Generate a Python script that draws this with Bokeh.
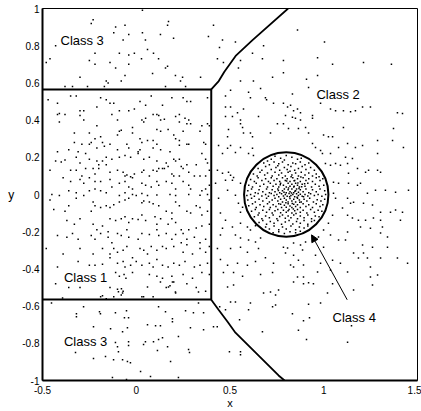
from bokeh.plotting import figure
from bokeh.models import Range1d, FixedTicker, Arrow, NormalHead, Label
from bokeh.embed import file_html
from bokeh.resources import INLINE

# ---------------- data ----------------
xtick_vals = [-0.5, 0, 0.5, 1, 1.5]
xtick_labels = ["-0.5", "0", "0.5", "1", "1.5"]
ytick_vals = [-1, -0.8, -0.6, -0.4, -0.2, 0, 0.2, 0.4, 0.6, 0.8, 1]
ytick_labels = ["-1", "-0.8", "-0.6", "-0.4", "-0.2", "0", "0.2", "0.4", "0.6", "0.8", "1"]
x_title = "x"
y_title = "y"

# decision boundaries
rect_x = [-0.5, 0.4, 0.4, -0.5]
rect_y = [0.565, 0.565, -0.565, -0.565]
upper_x = [0.4, 0.44, 0.47, 0.53, 0.62, 0.81]
upper_y = [0.565, 0.61, 0.66, 0.745, 0.83, 1.0]
lower_x = [0.4, 0.439, 0.487, 0.529, 0.759, 0.791]
lower_y = [-0.566, -0.62, -0.684, -0.743, -0.973, -1.0]
circle_cx = 0.8
circle_cy = 0.0
circle_r = 0.225

# class labels
label_text = ["Class 3", "Class 2", "Class 1", "Class 3", "Class 4"]
label_x = [-0.404, 0.961, -0.386, -0.386, 1.047]
label_y = [0.826, 0.538, -0.448, -0.791, -0.66]
arrow_from = (1.125, -0.566)
arrow_to = (0.935, -0.217)

class1_pts = [
    (-0.47,0.51),(-0.42,0.49),(-0.35,0.53),(-0.32,0.53),(-0.19,0.52),(-0.16,0.51),(-0.14,0.49),(-0.12,0.49),
    (0.02,0.50),(0.05,0.48),(0.08,0.53),(0.14,0.48),(0.19,0.52),(0.25,0.52),(0.27,0.50),(0.29,0.50),(0.38,0.52),
    (-0.42,0.43),(-0.41,0.435),(-0.38,0.43),(-0.41,0.39),(-0.30,0.45),(-0.28,0.45),(-0.30,0.425),(-0.28,0.40),
    (-0.21,0.47),(-0.13,0.43),(-0.09,0.45),(-0.04,0.45),(-0.01,0.46),(-0.10,0.40),(0.03,0.40),(0.04,0.39),
    (0.05,0.41),(0.09,0.43),(0.11,0.43),(0.12,0.425),(0.13,0.40),(0.15,0.405),(0.21,0.42),(0.23,0.43),
    (0.26,0.41),(0.28,0.40),(0.29,0.38),(0.27,0.38),(0.23,0.39),(0.35,0.37),(0.38,0.38),(0.39,0.37),
    (-0.21,0.37),(-0.33,0.33),(-0.25,0.33),(-0.22,0.30),(-0.24,0.28),(-0.19,0.31),(-0.14,0.27),(-0.09,0.34),
    (-0.08,0.345),(-0.10,0.32),(-0.02,0.36),(-0.02,0.33),(0.02,0.30),(0.03,0.28),(0.06,0.29),(0.09,0.29),
    (0.11,0.35),(0.13,0.34),(0.17,0.35),(0.20,0.32),(0.21,0.30),(0.23,0.29),(0.25,0.34),(0.27,0.27),
    (0.34,0.34),(0.36,0.28),(0.37,0.27),(-0.33,0.28),(-0.29,0.27),(-0.25,0.27),(-0.21,0.25),(-0.18,0.28),
    (-0.17,0.26),(-0.05,0.27),(-0.04,0.25),(-0.10,0.24),(0.01,0.23),(0.02,0.24),(0.09,0.25),(0.11,0.27),
    (0.13,0.24),(0.18,0.23),(0.23,0.265),(0.28,0.27),(0.35,0.22),(-0.42,0.23),(-0.36,0.24),(-0.31,0.23),
    (-0.27,0.22),(-0.43,0.18),(-0.40,0.175),(-0.38,0.185),(-0.32,0.20),(-0.30,0.17),(-0.25,0.19),(-0.21,0.18),
    (-0.18,0.18),(-0.16,0.20),(-0.20,0.16),(-0.16,0.16),(-0.13,0.19),(-0.09,0.20),(-0.06,0.21),(-0.03,0.20),
    (0.01,0.22),(0.04,0.19),(0.07,0.20),(0.11,0.18),(0.16,0.17),(0.14,0.14),(0.17,0.15),(0.20,0.19),
    (0.21,0.18),(0.23,0.19),(0.24,0.15),(0.27,0.16),(0.32,0.16),(0.37,0.19),(0.38,0.17),(-0.46,0.13),
    (-0.35,0.13),(-0.32,0.13),(-0.29,0.10),(-0.27,0.14),(-0.23,0.14),(-0.20,0.14),(-0.22,0.11),(-0.14,0.12),
    (-0.10,0.13),(-0.07,0.12),(-0.06,0.10),(-0.05,0.105),(-0.03,0.095),(-0.01,0.11),(-0.02,0.09),(0.03,0.12),
    (0.04,0.13),(0.07,0.10),(0.09,0.13),(0.11,0.125),(0.12,0.14),(0.15,0.14),(0.19,0.11),(0.20,0.10),
    (0.23,0.10),(0.25,0.14),(0.28,0.12),(0.31,0.10),(0.34,0.10),(0.37,0.10),(0.39,0.13),(-0.39,0.09),
    (-0.35,0.07),(-0.30,0.08),(-0.28,0.06),(-0.25,0.09),(-0.22,0.07),(-0.19,0.07),(-0.14,0.08),(-0.13,0.04),
    (-0.09,0.06),(-0.06,0.07),(-0.04,0.04),(-0.02,0.03),(0.03,0.06),(0.05,0.05),(0.08,0.04),(0.11,0.07),
    (0.12,0.05),(0.16,0.07),(0.19,0.06),(0.21,0.03),(0.25,0.07),(0.28,0.05),(0.29,0.03),(0.35,0.02),
    (0.37,0.03),(0.39,0.05),(-0.45,0.00),(-0.41,-0.005),(-0.36,0.02),(-0.32,0.01),(-0.28,-0.005),(-0.25,0.02),
    (-0.22,0.03),(-0.19,0.02),(-0.16,0.01),(-0.09,-0.005),(-0.06,0.01),(-0.02,0.00),(0.00,-0.005),(0.03,0.005),
    (0.06,-0.005),(0.11,-0.003),(0.18,0.00),(0.21,-0.005),(0.28,0.00),(0.34,-0.004),(0.38,0.00),
    (-0.46,-0.03),(-0.44,-0.08),(-0.38,-0.09),(-0.36,-0.06),(-0.32,-0.02),(-0.23,-0.04),(-0.22,-0.06),(-0.24,-0.09),
    (-0.19,-0.07),(-0.16,-0.06),(-0.14,-0.07),(-0.12,-0.055),(-0.09,-0.04),(-0.06,-0.03),(-0.04,-0.02),(0.03,-0.045),
    (0.04,-0.035),(0.07,-0.04),(0.09,-0.05),(0.12,-0.06),(0.16,-0.09),(0.19,-0.10),(0.21,-0.04),(0.23,-0.06),
    (0.27,-0.09),(0.29,-0.10),(0.32,-0.06),(0.34,-0.07),(0.35,-0.11),(0.38,-0.09),(0.39,-0.03),(-0.37,-0.14),
    (-0.33,-0.16),(-0.30,-0.13),(-0.23,-0.16),(-0.21,-0.19),(-0.18,-0.17),(-0.15,-0.20),(-0.14,-0.13),(-0.11,-0.14),
    (-0.08,-0.13),(-0.06,-0.12),(-0.04,-0.15),(-0.02,-0.13),(0.01,-0.135),(0.03,-0.11),(0.05,-0.14),(0.10,-0.12),
    (0.11,-0.16),(0.13,-0.13),(0.17,-0.16),(0.19,-0.13),(0.21,-0.15),(0.24,-0.19),(0.25,-0.21),(0.28,-0.19),
    (0.32,-0.18),(0.35,-0.17),(0.39,-0.16),(-0.42,-0.22),(-0.37,-0.23),(-0.34,-0.21),(-0.31,-0.24),(-0.24,-0.22),
    (-0.22,-0.24),(-0.19,-0.21),(-0.15,-0.23),(-0.13,-0.26),(-0.10,-0.21),(-0.08,-0.22),(-0.05,-0.19),(-0.04,-0.23),
    (0.01,-0.24),(0.03,-0.21),(0.07,-0.215),(0.11,-0.19),(0.12,-0.22),(0.16,-0.21),(0.19,-0.24),(0.21,-0.215),
    (0.24,-0.26),(0.27,-0.24),(0.31,-0.23),(0.34,-0.26),(0.37,-0.24),(-0.48,-0.29),(-0.39,-0.32),(-0.30,-0.29),
    (-0.23,-0.32),(-0.18,-0.29),(-0.14,-0.32),(-0.12,-0.29),(-0.10,-0.31),(-0.07,-0.30),(-0.05,-0.28),(-0.02,-0.34),
    (0.02,-0.29),(0.04,-0.30),(0.06,-0.32),(0.08,-0.28),(0.11,-0.30),(0.14,-0.28),(0.16,-0.29),(0.20,-0.28),
    (0.25,-0.31),(0.27,-0.27),(0.30,-0.32),(0.34,-0.29),(0.37,-0.31),(0.39,-0.28),(-0.31,-0.36),(-0.25,-0.38),
    (-0.22,-0.38),(-0.18,-0.375),(-0.14,-0.34),(-0.10,-0.37),(-0.07,-0.36),(-0.06,-0.39),(-0.03,-0.38),(0.00,-0.36),
    (0.03,-0.38),(0.07,-0.37),(0.09,-0.39),(0.11,-0.35),(0.14,-0.38),(0.17,-0.39),(0.20,-0.37),(0.23,-0.38),
    (0.26,-0.36),(0.31,-0.39),(0.34,-0.38),(0.38,-0.37),(-0.42,-0.39),(-0.11,-0.42),(-0.09,-0.44),(-0.065,-0.43),
    (-0.055,-0.45),(-0.02,-0.42),(0.07,-0.43),(0.11,-0.44),(0.14,-0.45),(0.19,-0.44),(0.20,-0.47),(0.25,-0.43),
    (0.30,-0.45),(0.35,-0.42),(0.39,-0.43),(-0.43,-0.48),(-0.36,-0.50),(-0.30,-0.50),(-0.14,-0.50),(-0.10,-0.51),
    (-0.07,-0.52),(-0.08,-0.54),(0.16,-0.50),(0.18,-0.49),(0.21,-0.53),(0.27,-0.48),(0.32,-0.50),(0.37,-0.52),
    (-0.19,-0.55),(-0.16,-0.56),(-0.12,-0.55),(0.03,-0.55),(0.09,-0.55),(-0.079,-0.507),(-0.073,-0.529),
    (-0.095,-0.523),(-0.18,-0.545),(-0.393,-0.556),(0.06,-0.497),(0.129,-0.47),(0.172,-0.497),(0.193,-0.47),
    (0.209,-0.524),(0.332,-0.524),(0.039,-0.55),
]

class2_pts = [
    (0.62,0.76),(0.679,0.80),(0.673,0.73),(0.556,0.72),(0.545,0.68),(0.727,0.63),(0.625,0.61),(0.556,0.61),
    (0.663,0.57),(0.503,0.56),(0.599,0.55),(0.609,0.52),(0.689,0.52),(0.695,0.51),(0.476,0.53),(0.732,0.49),
    (0.503,0.47),(0.476,0.47),(0.572,0.46),(0.54,0.44),(0.652,0.42),(0.513,0.42),(0.556,0.40),(0.476,0.42),
    (0.556,0.38),(0.567,0.36),(0.492,0.35),(0.572,0.33),(0.609,0.33),(0.753,0.38),(0.487,0.31),(0.62,0.31),
    (0.716,0.33),(0.86,0.885),(1.004,0.82),(0.785,0.72),(0.967,0.735),(1.047,0.70),(1.212,0.71),(1.361,0.70),
    (0.785,0.655),(0.908,0.62),(0.967,0.64),(0.833,0.54),(0.919,0.575),(0.983,0.49),(1.036,0.46),(1.063,0.45),
    (1.105,0.45),(1.143,0.445),(1.169,0.45),(1.207,0.47),(1.249,0.47),(1.393,0.44),(1.42,0.435),(0.785,0.49),
    (0.807,0.47),(0.823,0.48),(0.839,0.45),(0.86,0.46),(0.876,0.44),(0.796,0.425),(0.833,0.415),(0.849,0.41),
    (0.876,0.40),(0.94,0.425),(0.94,0.41),(0.785,0.38),(0.812,0.355),(0.865,0.355),(0.903,0.36),(0.919,0.33),
    (1.105,0.36),(0.999,0.32),(1.025,0.31),(1.047,0.31),(1.287,0.29),(1.372,0.355),(1.367,0.29),
    (0.439,0.264),(0.46,0.221),(0.487,0.248),(0.503,0.264),(0.529,0.226),(0.556,0.253),(0.599,0.221),(0.62,0.248),
    (0.625,0.21),(0.433,0.13),(0.46,0.114),(0.492,0.119),(0.503,0.103),(0.519,0.092),(0.513,0.076),(0.476,0.076),
    (0.423,0.06),(0.556,0.06),(0.439,-0.02),(0.487,0.023),(0.529,-0.004),(0.545,-0.047),(0.567,-0.068),(0.556,-0.095),
    (0.449,-0.1),(0.476,-0.138),(0.513,-0.175),(0.46,-0.181),(0.556,-0.154),(0.593,-0.175),(0.609,-0.191),(0.636,-0.168),
    (0.449,-0.218),(0.529,-0.218),(0.556,-0.234),(0.599,-0.245),(0.636,-0.256),(0.663,-0.234),(0.433,-0.29),(0.503,-0.29),
    (0.556,-0.283),(0.593,-0.31),(0.652,-0.29),(0.449,-0.35),(0.487,-0.38),(0.54,-0.37),(0.593,-0.38),(0.636,-0.36),
    (0.689,-0.34),(0.732,-0.37),(0.465,-0.42),(0.519,-0.42),(0.567,-0.44),(0.663,-0.43),(0.727,-0.42),
    (0.94,0.274),(0.956,0.253),(0.983,0.237),(0.993,0.221),(1.036,0.221),(1.079,0.253),(1.127,0.274),(1.169,0.253),
    (1.207,0.264),(1.287,0.221),(1.425,0.253),(1.009,0.167),(1.036,0.157),(1.063,0.167),(1.089,0.157),(1.127,0.167),
    (1.153,0.194),(1.116,0.2),(1.18,0.14),(1.223,0.119),(1.239,0.13),(1.287,0.13),(1.303,0.119),(1.132,0.114),
    (1.052,0.066),(1.079,0.06),(1.132,0.06),(1.18,0.05),(1.196,0.06),(1.233,0.007),(1.276,0.023),(1.329,0.023),
    (1.383,0.012),(1.452,0.023),(1.052,0.007),(1.063,-0.02),(1.127,-0.02),(1.159,-0.041),(1.143,-0.047),(1.212,-0.047),
    (1.26,-0.057),(1.303,-0.095),(1.356,-0.095),(1.383,-0.084),(1.42,-0.095),(1.1,-0.073),(1.047,-0.111),(1.127,-0.111),
    (1.153,-0.127),(1.185,-0.138),(1.223,-0.138),(1.265,-0.127),(1.303,-0.138),(1.025,-0.154),(0.999,-0.191),(1.196,-0.175),
    (1.249,-0.181),(1.313,-0.175),(1.409,-0.138),(0.972,-0.229),(1.036,-0.218),(1.127,-0.202),(1.303,-0.207),(1.34,-0.229),
    (0.999,-0.283),(1.079,-0.245),(1.116,-0.245),(1.207,-0.272),(1.159,-0.315),(1.212,-0.315),(1.26,-0.283),(1.34,-0.283),
    (0.785,-0.283),(0.807,-0.288),(0.839,-0.261),(0.876,-0.272),(0.903,-0.256),(0.796,-0.315),(0.839,-0.326),(0.887,-0.299),
    (0.823,-0.379),(0.865,-0.353),(0.892,-0.379),(0.839,-0.39),(0.956,-0.326),(0.983,-0.369),(1.047,-0.353),(1.089,-0.369),
    (1.185,-0.342),(1.233,-0.342),(1.303,-0.342),(1.393,-0.342),(1.447,-0.369),(0.967,-0.417),(1.036,-0.406),(1.127,-0.417),
    (1.249,-0.39),(0.86,-0.444),(0.892,-0.444),(1.249,-0.444),(1.287,-0.433),
    (0.839,-0.47),(0.892,-0.48),(0.919,-0.475),(0.945,-0.48),(1.047,-0.48),(1.159,-0.513),(1.26,-0.486),(1.02,-0.529),
    (0.983,-0.583),(0.919,-0.59),(0.833,-0.641),(0.924,-0.663),(0.892,-0.679),(0.865,-0.73),(0.908,-0.78),(1.148,-0.706),
    (1.127,-0.795),
    (0.487,-0.497),(0.519,-0.486),(0.609,-0.583),(0.679,-0.529),(0.716,-0.524),(0.743,-0.54),(0.727,-0.604),(0.743,-0.594),
    (0.759,-0.513),(0.503,-0.578),(0.529,-0.578),(0.476,-0.62),(0.445,-0.604),(0.551,-0.673),(0.599,-0.62),(0.673,-0.738),
]

class3_pts = [
    (-0.23,0.94),(-0.24,0.92),(-0.11,0.90),(-0.06,0.91),(-0.12,0.87),(-0.04,0.86),(-0.07,0.83),(-0.43,0.80),
    (-0.46,0.73),(-0.48,0.71),(-0.22,0.76),(-0.25,0.72),(-0.22,0.70),(-0.14,0.71),(-0.09,0.76),(-0.04,0.75),
    (-0.01,0.76),(-0.04,0.70),(-0.11,0.68),(-0.06,0.64),(-0.30,0.63),(-0.16,0.61),(-0.15,0.60),(-0.08,0.61),
    (-0.34,0.58),(-0.38,0.58),(-0.26,0.58),(-0.17,0.58),
    (0.033,0.99),(0.172,0.93),(0.167,0.91),(0.412,0.91),(0.033,0.87),(0.129,0.86),(0.199,0.84),(0.385,0.85),
    (0.46,0.83),(0.049,0.83),(0.06,0.78),(0.092,0.76),(0.028,0.73),(0.119,0.73),(0.167,0.69),(0.156,0.68),
    (0.444,0.79),(0.529,0.82),(0.433,0.73),(0.465,0.71),(0.087,0.65),(0.209,0.64),(0.247,0.63),(0.236,0.61),
    (0.343,0.63),(0.263,0.58),(0.156,0.58),
    (-0.452,-0.583),(-0.319,-0.641),(-0.319,-0.657),(-0.281,-0.604),(-0.196,-0.63),(-0.191,-0.641),(-0.111,-0.636),
    (-0.052,-0.625),(-0.063,-0.663),(-0.041,-0.663),(-0.228,-0.711),(-0.137,-0.722),(-0.073,-0.738),(-0.047,-0.716),
    (-0.324,-0.85),(-0.228,-0.882),(-0.164,-0.871),(-0.121,-0.888),(-0.073,-0.888),(-0.047,-0.898),(-0.031,-0.904),
    (-0.111,-0.796),(-0.1,-0.818),(-0.095,-0.845),(-0.041,-0.791),(-0.041,-0.812),(-0.127,-0.984),(-0.052,-0.995),
    (0.119,-0.604),(0.156,-0.63),(0.263,-0.625),(0.305,-0.636),(0.332,-0.583),(0.359,-0.636),(0.193,-0.668),
    (0.193,-0.684),(0.06,-0.7),(0.103,-0.706),(0.129,-0.706),(0.289,-0.716),(0.359,-0.727),(0.412,-0.711),
    (0.432,-0.711),(0.225,-0.764),(0.049,-0.791),(0.092,-0.791),(0.119,-0.78),(0.14,-0.77),(0.039,-0.807),
    (0.167,-0.818),(0.113,-0.839),(0.279,-0.834),(0.284,-0.85),(0.183,-0.898),(0.023,-0.952),(0.076,-0.979),
    (0.225,-0.984),(0.497,-0.845),(0.556,-0.845),(0.556,-0.861),
]

class4_pts = [
    (0.74,0.205),(0.77,0.195),(0.80,0.21),(0.83,0.20),(0.86,0.19),(0.72,0.19),(0.79,0.185),(0.88,0.195),
    (0.68,0.17),(0.71,0.16),(0.735,0.175),(0.76,0.165),(0.78,0.175),(0.81,0.16),(0.835,0.17),(0.85,0.165),
    (0.875,0.175),(0.9,0.16),(0.92,0.17),(0.70,0.18),
    (0.65,0.14),(0.67,0.13),(0.69,0.15),(0.72,0.135),(0.745,0.145),(0.765,0.13),(0.79,0.145),(0.805,0.135),
    (0.825,0.15),(0.845,0.13),(0.865,0.14),(0.885,0.15),(0.905,0.135),(0.93,0.145),(0.95,0.13),(0.755,0.155),(0.82,0.125),
    (0.625,0.11),(0.645,0.10),(0.66,0.12),(0.685,0.105),(0.70,0.115),(0.725,0.10),(0.74,0.12),(0.76,0.105),
    (0.775,0.115),(0.795,0.10),(0.81,0.12),(0.83,0.105),(0.85,0.115),(0.865,0.10),(0.88,0.12),(0.90,0.105),
    (0.92,0.115),(0.94,0.10),(0.96,0.11),(0.975,0.095),
    (0.61,0.08),(0.63,0.07),(0.65,0.09),(0.67,0.075),(0.69,0.085),(0.705,0.07),(0.72,0.09),(0.735,0.075),
    (0.75,0.085),(0.765,0.07),(0.78,0.09),(0.795,0.075),(0.805,0.085),(0.82,0.07),(0.835,0.09),(0.845,0.075),
    (0.86,0.085),(0.875,0.07),(0.89,0.09),(0.905,0.075),(0.92,0.085),(0.94,0.07),(0.96,0.09),(0.98,0.075),(0.995,0.085),
    (0.60,0.05),(0.62,0.04),(0.64,0.06),(0.66,0.045),(0.68,0.055),(0.70,0.04),(0.715,0.06),(0.73,0.045),
    (0.745,0.055),(0.76,0.04),(0.77,0.06),(0.785,0.05),(0.80,0.04),(0.81,0.06),(0.82,0.045),(0.83,0.055),
    (0.84,0.04),(0.85,0.06),(0.86,0.05),(0.87,0.04),(0.885,0.055),(0.90,0.045),(0.915,0.06),(0.935,0.04),
    (0.955,0.055),(0.975,0.045),(1.0,0.05),
    (0.595,0.02),(0.615,0.03),(0.635,0.01),(0.655,0.025),(0.675,0.015),(0.695,0.03),(0.71,0.01),(0.725,0.025),
    (0.74,0.015),(0.755,0.03),(0.765,0.01),(0.78,0.02),(0.79,0.03),(0.80,0.01),(0.81,0.025),(0.82,0.015),
    (0.83,0.03),(0.84,0.01),(0.85,0.02),(0.855,0.03),(0.865,0.012),(0.875,0.025),(0.89,0.015),(0.905,0.03),
    (0.92,0.01),(0.94,0.025),(0.96,0.015),(0.98,0.03),(1.005,0.02),
    (0.59,-0.005),(0.61,0.0),(0.63,-0.01),(0.65,0.005),(0.67,-0.008),(0.69,0.0),(0.705,-0.01),(0.72,0.005),
    (0.735,-0.005),(0.75,0.0),(0.76,-0.012),(0.775,0.004),(0.785,-0.008),(0.795,0.0),(0.805,-0.01),(0.815,0.005),
    (0.825,-0.005),(0.835,0.0),(0.845,-0.012),(0.855,0.004),(0.865,-0.006),(0.875,0.002),(0.885,-0.01),(0.9,0.0),
    (0.915,-0.008),(0.93,0.004),(0.95,-0.005),(0.97,0.0),(0.99,-0.01),(1.01,0.0),
    (0.595,-0.03),(0.615,-0.02),(0.635,-0.04),(0.655,-0.025),(0.675,-0.035),(0.695,-0.02),(0.71,-0.04),(0.725,-0.03),
    (0.74,-0.02),(0.755,-0.035),(0.77,-0.025),(0.78,-0.04),(0.79,-0.02),(0.80,-0.03),(0.81,-0.04),(0.82,-0.022),
    (0.83,-0.035),(0.84,-0.025),(0.85,-0.04),(0.86,-0.02),(0.87,-0.03),(0.88,-0.04),(0.895,-0.025),(0.91,-0.035),
    (0.925,-0.02),(0.945,-0.04),(0.965,-0.028),(0.985,-0.035),(1.005,-0.025),
    (0.60,-0.06),(0.62,-0.05),(0.64,-0.07),(0.66,-0.055),(0.68,-0.065),(0.70,-0.05),(0.715,-0.07),(0.73,-0.055),
    (0.745,-0.065),(0.76,-0.05),(0.775,-0.07),(0.79,-0.058),(0.80,-0.068),(0.81,-0.05),(0.82,-0.062),(0.83,-0.07),
    (0.84,-0.052),(0.85,-0.065),(0.86,-0.055),(0.875,-0.07),(0.89,-0.05),(0.905,-0.065),(0.92,-0.055),(0.94,-0.07),
    (0.96,-0.05),(0.98,-0.065),(0.995,-0.055),
    (0.615,-0.09),(0.635,-0.08),(0.655,-0.10),(0.675,-0.085),(0.695,-0.095),(0.71,-0.08),(0.725,-0.10),(0.74,-0.088),
    (0.755,-0.08),(0.77,-0.098),(0.785,-0.085),(0.80,-0.095),(0.815,-0.08),(0.83,-0.1),(0.845,-0.088),(0.86,-0.08),
    (0.875,-0.095),(0.89,-0.085),(0.91,-0.1),(0.93,-0.08),(0.95,-0.095),(0.97,-0.085),(0.99,-0.09),
    (0.63,-0.12),(0.65,-0.11),(0.67,-0.13),(0.69,-0.115),(0.71,-0.125),(0.73,-0.11),(0.75,-0.13),(0.765,-0.118),
    (0.78,-0.11),(0.795,-0.128),(0.81,-0.115),(0.825,-0.125),(0.84,-0.11),(0.86,-0.13),(0.875,-0.115),(0.895,-0.125),
    (0.915,-0.11),(0.935,-0.13),(0.955,-0.115),(0.975,-0.12),
    (0.655,-0.15),(0.675,-0.14),(0.695,-0.16),(0.715,-0.145),(0.735,-0.155),(0.755,-0.14),(0.775,-0.16),(0.795,-0.148),
    (0.815,-0.14),(0.835,-0.158),(0.855,-0.145),(0.875,-0.155),(0.895,-0.14),(0.915,-0.16),(0.935,-0.145),(0.95,-0.14),
    (0.69,-0.175),(0.71,-0.185),(0.735,-0.17),(0.76,-0.19),(0.78,-0.175),(0.80,-0.185),(0.825,-0.17),(0.85,-0.19),
    (0.87,-0.175),(0.895,-0.18),(0.915,-0.17),
    (0.73,-0.205),(0.76,-0.2),(0.79,-0.21),(0.82,-0.2),(0.85,-0.205),(0.875,-0.198),
    (0.812,0.035),(0.828,0.008),(0.842,0.045),(0.858,-0.015),(0.868,0.032),(0.798,-0.045),(0.832,-0.048),
    (0.846,0.018),(0.872,-0.042),(0.818,-0.012),(0.788,0.012),(0.862,0.062),(0.838,-0.078),(0.882,0.042),
    (0.802,0.072),(0.77,-0.052),(0.892,-0.012),(0.826,0.096),(0.852,-0.102),(0.758,0.022),(0.81,-0.088),
    (0.878,0.094),(0.842,0.074),(0.768,0.052),(0.898,0.058),
]

# ---------------- figure ----------------
FONT = "Liberation Sans"
p = figure(width=421, height=411, x_range=Range1d(-0.5, 1.5), y_range=Range1d(-1, 1),
           output_backend="svg", toolbar_location=None,
           min_border_left=42, min_border_right=4, min_border_top=8, min_border_bottom=30)
p.background_fill_color = "white"
p.border_fill_color = "white"
p.xgrid.visible = False
p.ygrid.visible = False
p.outline_line_color = "black"
p.outline_line_width = 1
p.outline_line_alpha = 1

p.xaxis.ticker = FixedTicker(ticks=xtick_vals)
p.yaxis.ticker = FixedTicker(ticks=ytick_vals)
p.xaxis.major_label_overrides = dict(zip(xtick_vals, xtick_labels))
p.yaxis.major_label_overrides = dict(zip(ytick_vals, ytick_labels))
p.xaxis.axis_label = x_title
p.yaxis.axis_label = y_title
p.yaxis.axis_label_orientation = "horizontal"
for ax in p.axis:
    ax.axis_line_color = "black"
    ax.axis_line_width = 2
    ax.major_tick_in = 0
    ax.major_tick_out = 0
    ax.minor_tick_in = 0
    ax.minor_tick_out = 0
    ax.major_label_text_font = FONT
    ax.major_label_text_font_size = "10px"
    ax.major_label_text_color = "black"
    ax.major_label_text_line_height = 1.0
    ax.axis_label_text_font = FONT
    ax.axis_label_text_font_style = "normal"
    ax.axis_label_text_color = "black"
    ax.axis_label_text_line_height = 1.0
p.xaxis.axis_label_text_font_size = "11px"
p.yaxis.axis_label_text_font_size = "12px"
p.xaxis.major_label_standoff = 5
p.xaxis.axis_label_standoff = 0
p.yaxis.major_label_standoff = 3
p.yaxis.axis_label_standoff = 5

for pts in (class1_pts, class2_pts, class3_pts, class4_pts):
    xs = [pt[0] for pt in pts]
    ys = [pt[1] for pt in pts]
    p.scatter(xs, ys, marker="square", size=1.5, fill_color="black", line_color=None)

p.line(rect_x, rect_y, line_color="black", line_width=2)
p.line(upper_x, upper_y, line_color="black", line_width=1.8)
p.line(lower_x, lower_y, line_color="black", line_width=1.8)
p.circle(x=[circle_cx], y=[circle_cy], radius=circle_r, fill_color=None,
         line_color="black", line_width=2)

p.add_layout(Arrow(end=NormalHead(size=7, fill_color="black", line_color="black"),
                   x_start=arrow_from[0], y_start=arrow_from[1],
                   x_end=arrow_to[0], y_end=arrow_to[1],
                   line_color="black", line_width=1))

for t, lx, ly in zip(label_text, label_x, label_y):
    p.add_layout(Label(x=lx, y=ly, text=t, text_font=FONT, text_font_size="13px",
                       text_align="left", text_baseline="middle", text_color="black"))

open("out.html", "w").write(file_html(p, INLINE))
